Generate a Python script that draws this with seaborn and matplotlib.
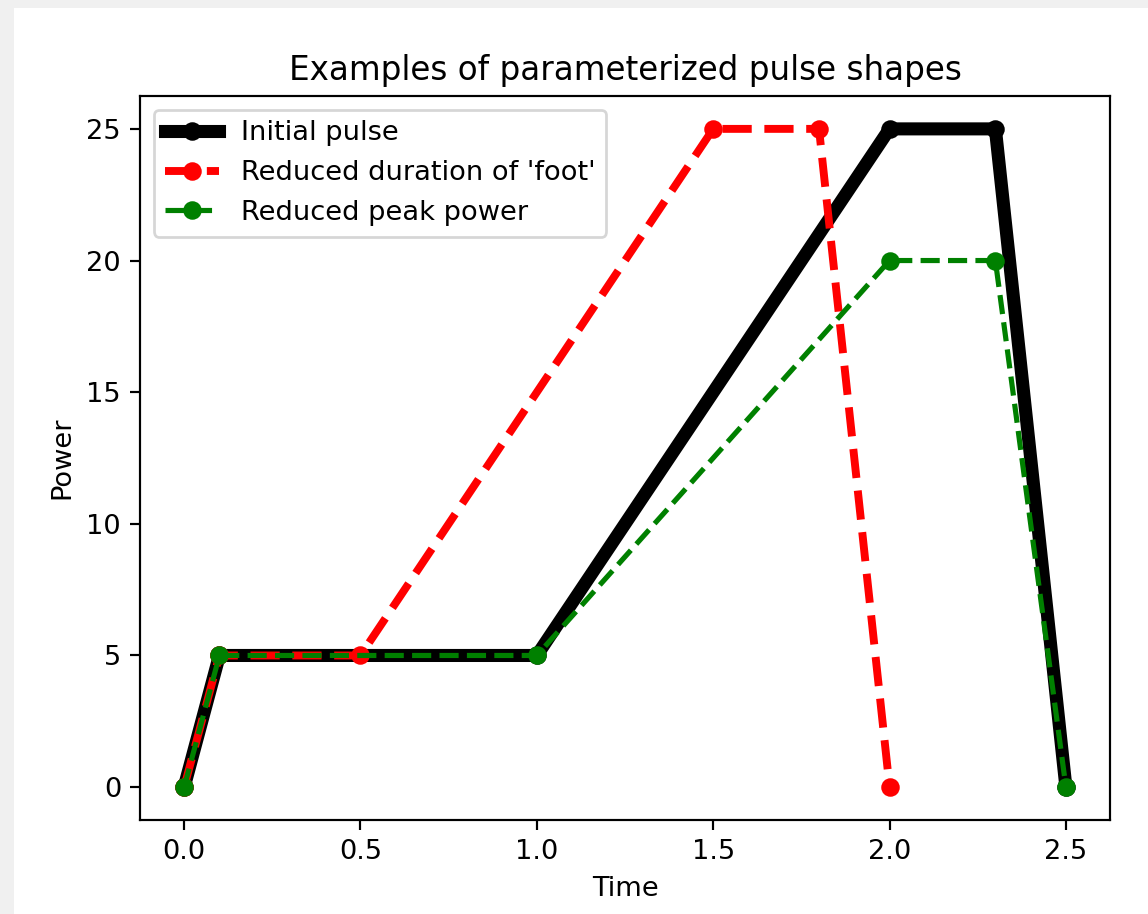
import matplotlib
matplotlib.use('Agg')
import matplotlib.pyplot as plt
from matplotlib.patches import Rectangle
import pandas
import seaborn

# pulse shapes: time points and power levels
initial_time = [0.0, 0.1, 1.0, 2.0, 2.3, 2.5]
initial_power = [0, 5, 5, 25, 25, 0]

short_foot_time = [0.0, 0.1, 0.5, 1.5, 1.8, 2.0]
short_foot_power = [0, 5, 5, 25, 25, 0]

low_peak_time = [0.0, 0.1, 1.0, 2.0, 2.3, 2.5]
low_peak_power = [0, 5, 5, 20, 20, 0]

x_ticks = [0.0, 0.5, 1.0, 1.5, 2.0, 2.5]
y_ticks = [0, 5, 10, 15, 20, 25]


def main():
    dpi = 196
    fig = plt.figure(figsize=(1148 / dpi, 914 / dpi), dpi=dpi)
    fig.patch.set_facecolor('#f0f0f0')
    # white canvas inside the grey screenshot border
    fig.patches.append(Rectangle((14 / 1148, 0), 1134 / 1148, 906 / 914,
                                 transform=fig.transFigure, facecolor='white',
                                 edgecolor='none', zorder=-1))
    ax = fig.add_axes([0.1220, 0.1028, 0.9669 - 0.1220, 0.8950 - 0.1028])

    series = [
        (initial_time, initial_power, 'Initial pulse', 'black', '-', 4.8),
        (short_foot_time, short_foot_power, "Reduced duration of 'foot'", 'red', '--', 2.9),
        (low_peak_time, low_peak_power, 'Reduced peak power', 'green', '--', 1.9),
    ]
    for times, power, label, color, style, width in series:
        df = pandas.DataFrame({'Time': times, 'Power': power})
        seaborn.lineplot(data=df, x='Time', y='Power', ax=ax, label=label,
                         color=color, linestyle=style, linewidth=width,
                         marker='o', markersize=5.8, markeredgecolor=color,
                         markeredgewidth=1, sort=False)

    ax.set_xticks(x_ticks)
    ax.set_yticks(y_ticks)
    ax.set_xlabel('Time')
    ax.set_ylabel('Power')
    ax.set_title('Examples of parameterized pulse shapes')
    ax.legend(loc='upper left')

    fig.savefig('out.png', dpi=dpi, facecolor=fig.get_facecolor())


if __name__ == '__main__':
    main()
